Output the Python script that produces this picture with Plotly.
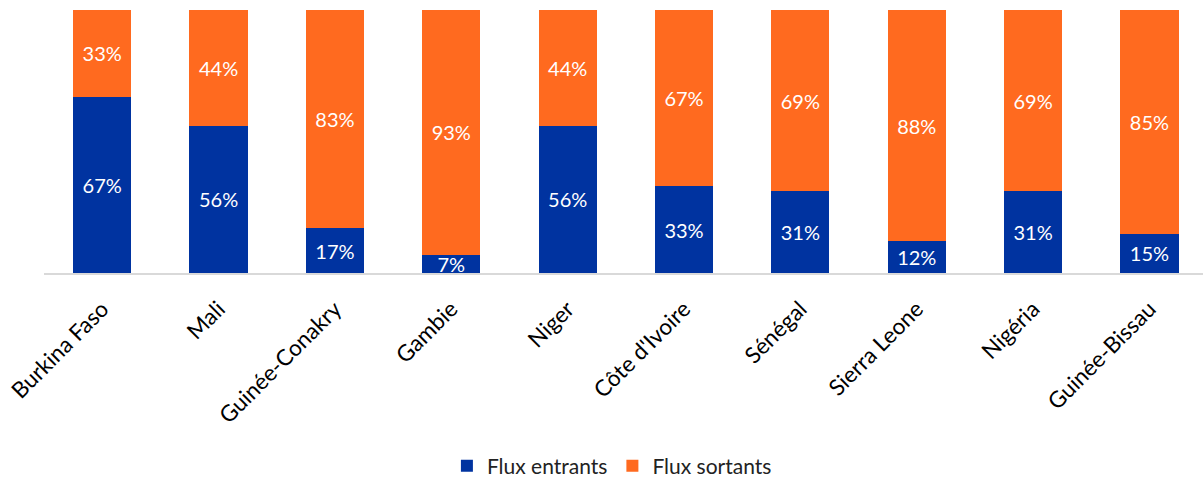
import plotly.graph_objects as go

categories = ["Burkina Faso", "Mali", "Guinée-Conakry", "Gambie", "Niger",
              "Côte d'Ivoire", "Sénégal", "Sierra Leone", "Nigéria", "Guinée-Bissau"]
flux_entrants = [67, 56, 17, 7, 56, 33, 31, 12, 31, 15]
flux_sortants = [33, 44, 83, 93, 44, 67, 69, 88, 69, 85]

BLUE = "#0033A0"
ORANGE = "#FF6A1F"
FONT = "Lato"

fig = go.Figure()
fig.add_trace(go.Bar(
    x=categories, y=flux_entrants, name="Flux entrants",
    marker=dict(color=BLUE, line=dict(width=0)),
    width=0.5,
    texttemplate="%{y}%", textposition="inside", insidetextanchor="middle",
    textfont=dict(color="white", size=20, family=FONT),
    cliponaxis=False,
))
fig.add_trace(go.Bar(
    x=categories, y=flux_sortants, name="Flux sortants",
    marker=dict(color=ORANGE, line=dict(width=0)),
    width=0.5,
    texttemplate="%{y}%", textposition="inside", insidetextanchor="middle",
    textfont=dict(color="white", size=20, family=FONT),
    cliponaxis=False,
))

fig.update_layout(
    barmode="stack",
    width=1203, height=477,
    margin=dict(l=44, r=0, t=10, b=204, autoexpand=False),
    paper_bgcolor="white", plot_bgcolor="white",
    font=dict(family=FONT, color="#000000"),
    uniformtext=dict(minsize=20, mode="show"),
    showlegend=True,
    legend=dict(orientation="h", x=0.49, xanchor="center", y=-0.734, yanchor="middle",
                font=dict(size=21, family=FONT, color="#222222"),
                itemsizing="constant", traceorder="normal"),
    xaxis=dict(range=[-0.5, 9.46], showline=True, linecolor="#D9D9D9", linewidth=2,
               tickangle=-45, tickfont=dict(size=22.5, family=FONT, color="#000000"),
               showgrid=False, ticks="", automargin=False, ticklabelstandoff=12),
    yaxis=dict(range=[0, 100], visible=False, showgrid=False, automargin=False),
    hovermode=False,
)

fig.write_html("out.html")
